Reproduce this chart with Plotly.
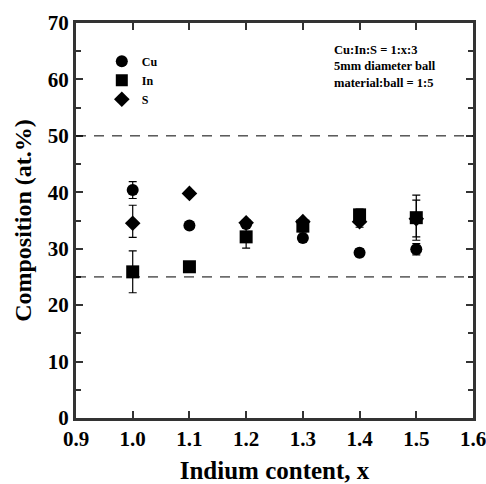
import plotly.graph_objects as go

x_vals = [1.0, 1.1, 1.2, 1.3, 1.4, 1.5]

cu = [40.4, 34.1, 34.4, 31.9, 29.3, 29.9]
cu_err = [1.5, 0, 0.5, 0.5, 0.7, 1.0]

in_ = [25.9, 26.8, 32.1, 34.0, 36.0, 35.5]
in_err = [3.7, 0, 2.0, 1.0, 1.0, 4.0]

s = [34.5, 39.8, 34.6, 34.8, 34.8, 35.3]
s_err_plus = [3.2, 0, 0.5, 0.5, 1.0, 3.3]
s_err_minus = [2.5, 0, 0.5, 0.5, 1.0, 3.2]

ref_levels = [25, 50]

x_ticks = [0.9, 1.0, 1.1, 1.2, 1.3, 1.4, 1.5, 1.6]
y_ticks = [0, 10, 20, 30, 40, 50, 60, 70]

FONT = "Liberation Serif"

fig = go.Figure()

def err(arr, minus=None):
    d = dict(type="data", array=arr, visible=True, color="black", thickness=1.2, width=4)
    if minus is not None:
        d["symmetric"] = False
        d["arrayminus"] = minus
    return d

fig.add_trace(go.Scatter(x=x_vals, y=s, mode="markers", name="S",
                         marker=dict(symbol="diamond", size=12, color="black"),
                         error_y=err(s_err_plus, s_err_minus)))
fig.add_trace(go.Scatter(x=x_vals, y=in_, mode="markers", name="In",
                         marker=dict(symbol="square", size=13, color="black"),
                         error_y=err(in_err)))
fig.add_trace(go.Scatter(x=x_vals, y=cu, mode="markers", name="Cu",
                         marker=dict(symbol="circle", size=12, color="black"),
                         error_y=err(cu_err)))

for lv in ref_levels:
    fig.add_hline(y=lv, line=dict(color="black", width=1, dash="10px,8px"))

fig.add_annotation(xref="paper", yref="paper", x=0.646, y=0.889, xanchor="left", yanchor="middle",
                   text="Cu:In:S = 1:x:3<br>5mm diameter ball<br>material:ball = 1:5",
                   showarrow=False, align="left",
                   font=dict(family=FONT, size=12.5, color="black", weight="bold"))

axis_common = dict(showline=True, linewidth=3, linecolor="#333333", mirror="ticks",
                   ticks="inside", tickwidth=2, tickcolor="#333333", ticklen=7,
                   showgrid=False, zeroline=False, automargin=False,
                   ticklabeloverflow="allow",
                   tickfont=dict(family=FONT, size=21, color="black", weight="bold"))

fig.update_xaxes(range=[0.9, 1.6], tickvals=x_ticks, ticktext=[f"{v:.1f}" for v in x_ticks],
                 title=dict(text="Indium content, x", font=dict(family=FONT, size=25, color="black", weight="bold"), standoff=14),
                 **axis_common)
fig.update_yaxes(range=[0, 70], tickvals=y_ticks,
                 minor=dict(ticks="inside", ticklen=5, tickwidth=2, tickcolor="#333333", dtick=5),
                 title=dict(text="Composition (at.%)", font=dict(family=FONT, size=24, color="black", weight="bold"), standoff=10),
                 **axis_common)

fig.update_layout(width=486, height=484, margin=dict(l=76, r=13, t=23, b=66),
                  plot_bgcolor="white", paper_bgcolor="white",
                  showlegend=True,
                  legend=dict(x=0.065, y=0.94, xanchor="left", yanchor="top", traceorder="reversed",
                              bgcolor="rgba(0,0,0,0)", itemsizing="constant", tracegroupgap=0,
                              font=dict(family=FONT, size=12, color="black", weight="bold")))

fig.write_html("out.html")
